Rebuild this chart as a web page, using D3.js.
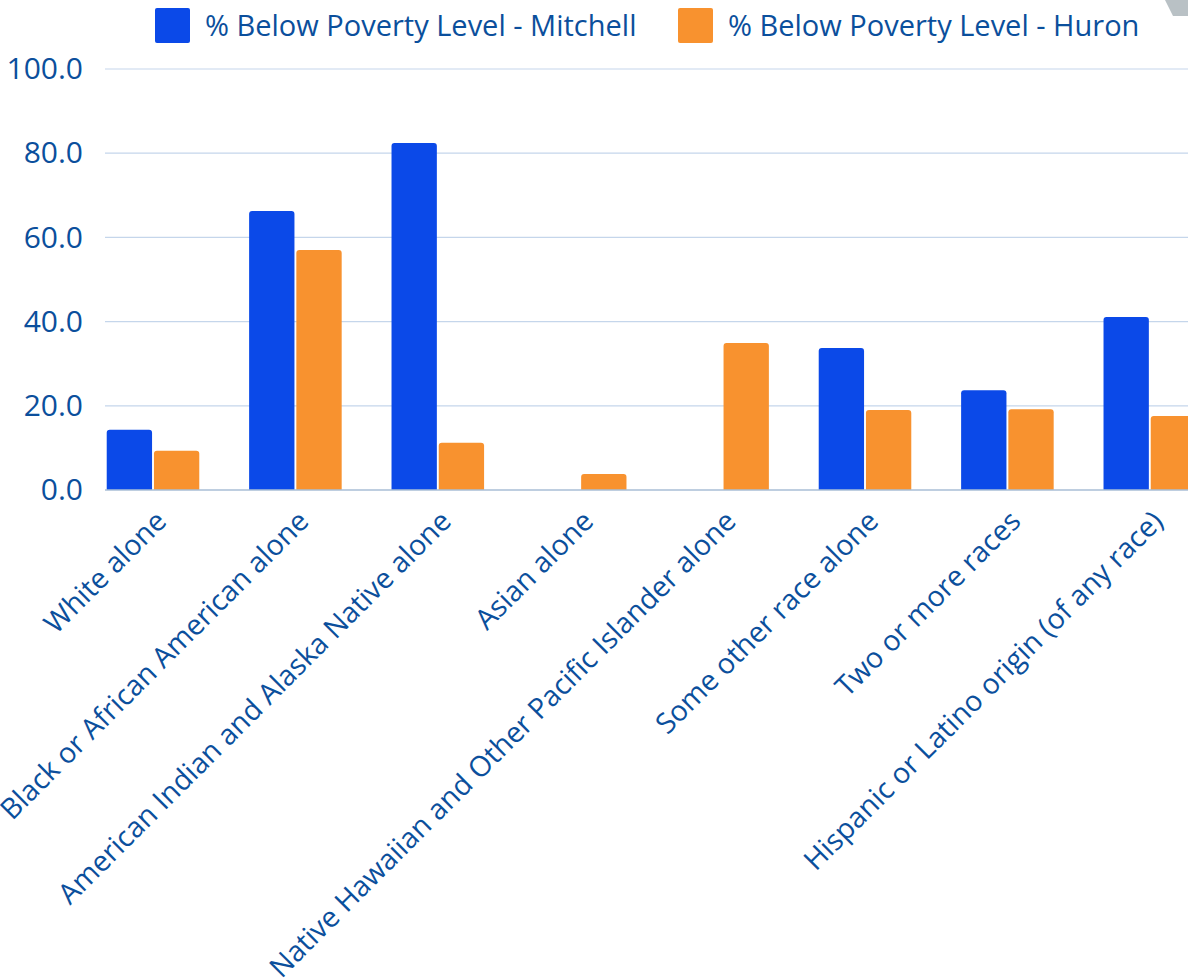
<!DOCTYPE html>
<html>
<head>
<meta charset="utf-8">
<script src="https://cdn.jsdelivr.net/npm/d3@7"></script>
<style>
  html, body { margin: 0; padding: 0; background: #fff; overflow: hidden; }
  svg { display: block; font-family: "Open Sans", "Noto Sans", sans-serif; }
</style>
</head>
<body>
<svg id="chart" width="1188" height="978"></svg>
<script>
const categories = [
  "White alone",
  "Black or African American alone",
  "American Indian and Alaska Native alone",
  "Asian alone",
  "Native Hawaiian and Other Pacific Islander alone",
  "Some other race alone",
  "Two or more races",
  "Hispanic or Latino origin (of any race)"
];
const seriesNames = ["% Below Poverty Level - Mitchell", "% Below Poverty Level - Huron"];
const mitchell = [14.3, 66.3, 82.4, 0, 0, 33.7, 23.7, 41.1];
const huron = [9.3, 57.0, 11.2, 3.8, 34.9, 19.0, 19.2, 17.6];
const yTicks = [0, 20, 40, 60, 80, 100];
const colors = ["#0b49e8", "#f8922f"];

const svg = d3.select("#chart");
const textColor = "#0b4f9c";

const plotLeft = 105, plotRight = 1188;
const step = 142.4;
const bandStart = 153 - step / 2;
const x0 = d3.scaleBand().domain(categories)
  .range([bandStart, bandStart + step * categories.length])
  .paddingInner(0.35).paddingOuter(0.175);
const x1 = d3.scaleBand().domain(seriesNames).range([0, x0.bandwidth()]).paddingInner(0.04);
const y = d3.scaleLinear().domain([0, 100]).range([490, 69]);

// gridlines
svg.append("g").selectAll("line").data(yTicks.filter(d => d > 0)).join("line")
  .attr("x1", plotLeft).attr("x2", plotRight)
  .attr("y1", d => y(d)).attr("y2", d => y(d))
  .attr("stroke", "#c5d6eb").attr("stroke-width", 1.2);

// y axis labels
const yAxis = d3.axisLeft(y).tickValues(yTicks).tickFormat(d3.format(".1f")).tickSize(0).tickPadding(0);
const ya = svg.append("g").attr("transform", `translate(83,0)`).call(yAxis);
ya.select(".domain").remove();
ya.selectAll("text").attr("fill", textColor).attr("font-size", 30).attr("font-family", "'Open Sans', sans-serif");

// bars
const data = categories.map((c, i) => ({ cat: c, vals: [mitchell[i], huron[i]] }));
const groups = svg.append("g").selectAll("g").data(data).join("g")
  .attr("transform", d => `translate(${x0(d.cat)},0)`);
groups.selectAll("path").data(d => d.vals.map((v, j) => ({ v, s: seriesNames[j], j })).filter(e => e.v > 0))
  .join("path")
  .attr("fill", e => colors[e.j])
  .attr("d", e => {
    const xl = x1(e.s), w = x1.bandwidth(), yt = y(e.v), yb = y(0), r = 3;
    return `M${xl},${yb} L${xl},${yt + r} Q${xl},${yt} ${xl + r},${yt} L${xl + w - r},${yt} Q${xl + w},${yt} ${xl + w},${yt + r} L${xl + w},${yb} Z`;
  });

// baseline
svg.append("line").attr("x1", plotLeft).attr("x2", plotRight)
  .attr("y1", y(0)).attr("y2", y(0)).attr("stroke", "#a9bed6").attr("stroke-width", 1.5);

// x labels
const xAxis = d3.axisBottom(x0).tickSize(0).tickPadding(0);
const xa = svg.append("g").attr("transform", `translate(0,${y(0)})`).call(xAxis);
xa.select(".domain").remove();
xa.selectAll("text")
  .attr("fill", textColor).attr("font-size", 28.5).attr("font-family", "'Open Sans', sans-serif")
  .attr("text-anchor", "end")
  .attr("dy", null).attr("y", 0)
  .attr("transform", "translate(15,33) rotate(-45)");

// legend
const legend = svg.append("g");
const legX = [155, 678];
seriesNames.forEach((s, i) => {
  legend.append("rect").attr("x", legX[i]).attr("y", 8).attr("width", 35).attr("height", 35)
    .attr("rx", 2).attr("fill", colors[i]);
  legend.append("text").attr("x", legX[i] + 50).attr("y", 36)
    .attr("fill", textColor).attr("font-size", 29).text(s);
});

// top-right corner decoration
svg.append("polygon").attr("points", "1165,0 1188,0 1188,16 1173,16").attr("fill", "#b9c1c5");
</script>
</body>
</html>
